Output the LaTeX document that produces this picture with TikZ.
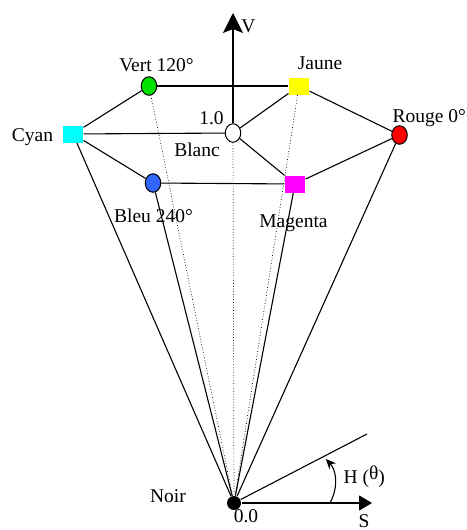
\documentclass[tikz,border=0pt]{standalone}
\usepackage{fontspec}
\setmainfont{Liberation Serif}
\usetikzlibrary{shapes.geometric,arrows.meta}
\definecolor{vertc}{RGB}{0,225,0}
\definecolor{bleuc}{RGB}{51,102,255}
\definecolor{rougec}{RGB}{255,0,0}
\definecolor{cyanc}{RGB}{0,255,255}
\definecolor{jaunec}{RGB}{255,255,0}
\definecolor{magentac}{RGB}{255,0,255}
\begin{document}
\begin{tikzpicture}[x=1pt, y=-1pt, line width=1.1pt,
    main/.style = {draw, ellipse, minimum width=15.5pt, minimum height=18.5pt, inner sep=0pt, line width=1pt},
    sq/.style = {rectangle, minimum width=20pt, minimum height=17pt, inner sep=0pt},
    lbl/.style = {font=\fontsize{19.5}{22}\selectfont, inner sep=0pt, anchor=base},
    dot/.style = {dotted, line width=0.7pt}]
\useasboundingbox (0,0) rectangle (466,530);
% sommets
\node[main, fill=white] (blanc) at (233,133) {};
\node[main, fill=vertc] (vert) at (149,86) {};
\node[main, fill=rougec] (rouge) at (399.5,135) {};
\node[main, fill=bleuc] (bleu) at (153,183) {};
\node[sq, fill=jaunec] (jaune) at (299,86) {};
\node[sq, fill=cyanc] (cyan) at (73,134) {};
\node[sq, fill=magentac] (magenta) at (295,184) {};
\node[circle, fill=black, minimum size=14pt, inner sep=0pt] (noir) at (234,503) {};
\coordinate (vtop) at (233,13);
\coordinate (stip) at (372,503);
\coordinate (hend) at (367,434);
% aretes
\draw (vert) -- (jaune);
\draw (cyan) -- (vert);
\draw (cyan) -- (blanc);
\draw (cyan) -- (bleu);
\draw (bleu) -- (magenta);
\draw (blanc) -- (jaune);
\draw (blanc) -- (magenta);
\draw (jaune) -- (rouge);
\draw (magenta) -- (rouge);
\draw (cyan) -- (noir);
\draw (bleu) -- (noir);
\draw (magenta) -- (noir);
\draw (rouge) -- (noir);
\draw[dot] (vert) -- (noir);
\draw[dot] (jaune) -- (noir);
\draw[dot] (blanc) -- (noir);
% axes
\draw[-{Stealth[length=20pt, width=20pt, inset=4pt]}] (blanc) -- (vtop);
\draw[-{Triangle[length=13pt, width=15pt]}] (noir) -- (stip);
\draw (noir) -- (hend);
\draw[-{Stealth[length=10pt, width=9pt]}] (330,503) .. controls (339,486) and (336,470) .. (326,459);
% textes
\node[lbl] (lv) at (248.5,32) {V};
\node[lbl] (lvert) at (156.5,71) {Vert 120°};
\node[lbl] (ljaune) at (320,69) {Jaune};
\node[lbl] (lun) at (211.5,124) {1.0};
\node[lbl] (lcyan) at (32.5,141.5) {Cyan};
\node[lbl] (lblanc) at (197,156) {Blanc};
\node[lbl, anchor=base west] (lrouge) at (392,122) {Rouge 0°};
\node[lbl] (lbleu) at (153.5,222) {Bleu 240°};
\node[lbl] (lmagenta) at (293.5,227) {Magenta};
\node[lbl] (lnoir) at (168,502.5) {Noir};
\node[lbl] (lzero) at (246,522) {0.0};
\node[lbl] (ls) at (364,527) {S};
\node[lbl, anchor=base west] (lh) at (343,483) {H (\raisebox{4pt}{θ})};
\end{tikzpicture}
\end{document}
